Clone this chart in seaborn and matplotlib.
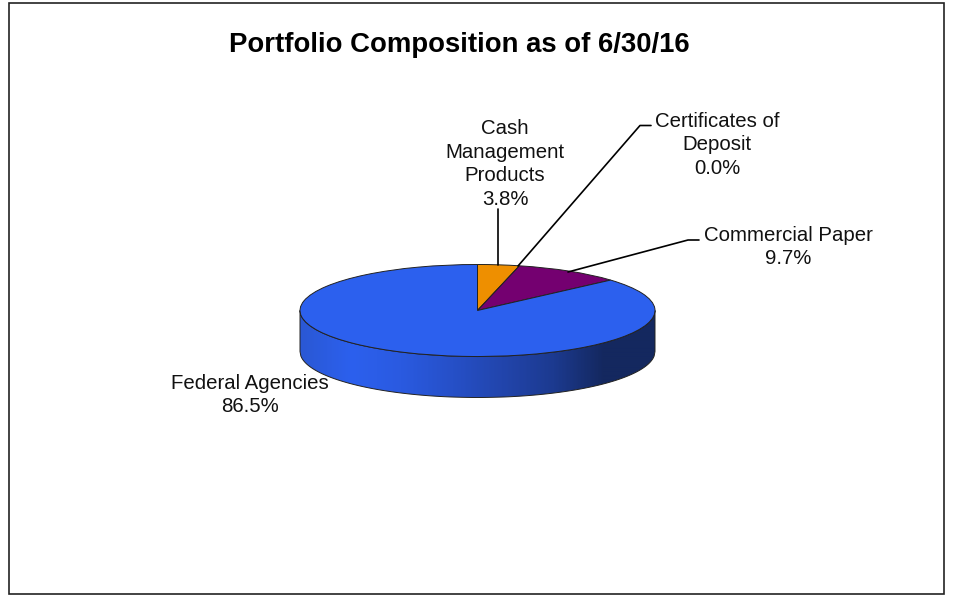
import numpy as np
import matplotlib
matplotlib.use('Agg')
import matplotlib.pyplot as plt
import seaborn as sns

# portfolio composition, clockwise from the top
categories = ['Cash\nManagement\nProducts', 'Certificates of\nDeposit', 'Commercial Paper', 'Federal Agencies']
percents = [3.8, 0.0, 9.7, 86.5]
colors = ['#EE8F00', '#E8E8E8', '#740070', '#2C60EE']

sns.set_theme(style='white')
plt.rcParams['font.family'] = ['Liberation Sans', 'DejaVu Sans']

W, H = 965, 600
fig = plt.figure(figsize=(W / 100, H / 100), dpi=100, facecolor='white')


def box(x0, y0, x1, y1):
    return [x0 / W, 1 - y1 / H, (x1 - x0) / W, (y1 - y0) / H]


# background layer in pixel coordinates
bg = fig.add_axes([0, 0, 1, 1], zorder=1)
bg.set_xlim(0, W)
bg.set_ylim(H, 0)
bg.axis('off')
bg.add_patch(plt.Rectangle((9, 2.5), 934.5, 591, fill=False, ec='#222222', lw=1.2))

# pie: a unit circle squeezed into the ellipse box
cx, cy, rx, ry, depth = 477.5, 310.5, 177.5, 46, 41
ax = fig.add_axes(box(cx - rx, cy - ry, cx + rx, cy + ry), zorder=2)
ax.patch.set_alpha(0)

# side wall shading, clipped to the wall outline
wall = sns.blend_palette(['#2A58D4', '#2C60EE', '#2A5AE0', '#2650C8', '#2245AC', '#1C3A90', '#14285F', '#14285F'], 355)
d = depth / ry
t = np.linspace(-1, 1, 400)
rim = -np.sqrt(1 - t ** 2)
outline = np.vstack([np.column_stack([t, rim]), np.column_stack([t[::-1], rim[::-1] - d])])
shape = plt.Polygon(outline, closed=True, fc='none', ec='#222222', lw=0.7, clip_on=False, zorder=1)
ax.add_patch(shape)
img = ax.imshow(np.array(wall)[np.newaxis, :, :], extent=(-1, 1, -1 - d, 0), aspect='auto',
                interpolation='bilinear', zorder=0.5)
img.set_clip_path(shape)
img.set_clip_box(fig.bbox)

ax.pie(percents, colors=colors, startangle=90, counterclock=False, radius=1,
       wedgeprops={'edgecolor': '#222222', 'linewidth': 0.7, 'zorder': 3})
for w in ax.patches:
    w.set_clip_on(False)
ax.set_aspect('auto')
ax.set_xlim(-1, 1)
ax.set_ylim(-1, 1)

# text and leader lines on top
top = fig.add_axes([0, 0, 1, 1], zorder=3)
top.set_xlim(0, W)
top.set_ylim(H, 0)
top.axis('off')
top.patch.set_alpha(0)
top.text(459, 45, 'Portfolio Composition as of 6/30/16', ha='center', va='center',
         fontsize=19.8, fontweight='bold', color='black')

label_pos = [(505, 164), (717, 145), (788, 247), (250, 395)]
for name, pct, (lx, ly) in zip(categories, percents, label_pos):
    top.text(lx, ly, f'{name}\n{pct:.1f}%', ha='center', va='center', fontsize=14.7,
             color='#111111', linespacing=1.33)

leaders = [([498, 498], [209, 265]),
           ([518, 640, 651], [266, 125.5, 125.5]),
           ([568, 688, 699], [272, 240, 240])]
for lx, ly in leaders:
    top.plot(lx, ly, color='black', lw=1.2)

fig.savefig('out.png', dpi=100, facecolor='white')
